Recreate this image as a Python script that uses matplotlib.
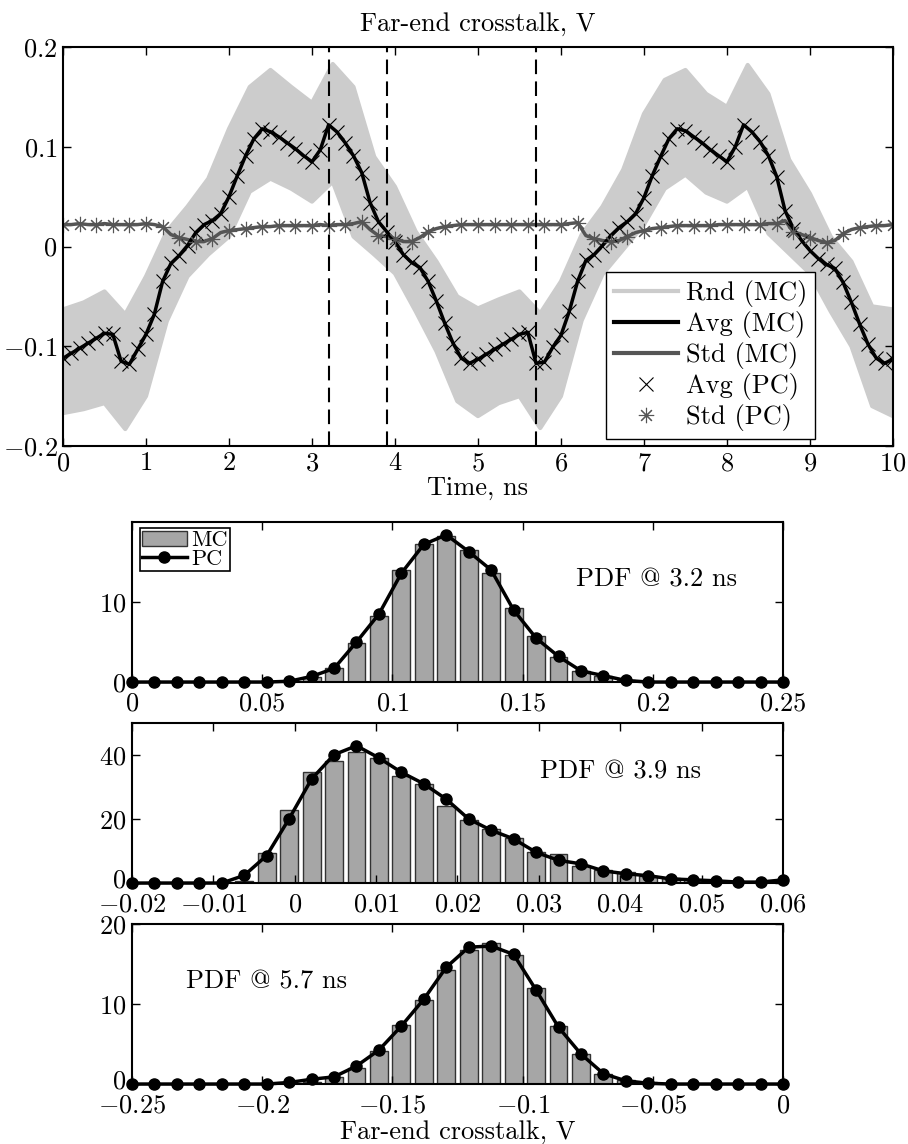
import numpy as np
import matplotlib
matplotlib.use("Agg")
import matplotlib.pyplot as plt
from matplotlib.lines import Line2D
from matplotlib.patches import Rectangle
from matplotlib.ticker import FuncFormatter
from matplotlib.transforms import ScaledTranslation

plt.rcParams['font.family'] = ['cmr10', 'DejaVu Serif']
plt.rcParams['mathtext.fontset'] = 'cm'
plt.rcParams['axes.formatter.use_mathtext'] = True
plt.rcParams['font.size'] = 19

# ---- top panel: far-end crosstalk vs time ----
t_avg = np.linspace(0, 10, 101)
avg_mc = [-0.112, -0.107, -0.102, -0.097, -0.092, -0.087, -0.088, -0.115, -0.118, -0.103,
          -0.088, -0.068, -0.035, -0.017, -0.009, 0.001, 0.014, 0.022, 0.026, 0.033,
          0.050, 0.071, 0.091, 0.108, 0.118, 0.115, 0.110, 0.104, 0.098, 0.091,
          0.085, 0.097, 0.122, 0.115, 0.104, 0.091, 0.074, 0.044, 0.025, 0.015,
          0.005, -0.008, -0.016, -0.021, -0.035, -0.055, -0.077, -0.097, -0.112, -0.117,
          -0.113, -0.108, -0.103, -0.098, -0.093, -0.088, -0.086, -0.117, -0.116, -0.101,
          -0.089, -0.065, -0.035, -0.014, -0.008, 0.001, 0.011, 0.019, 0.025, 0.033,
          0.049, 0.071, 0.090, 0.108, 0.118, 0.116, 0.110, 0.104, 0.097, 0.091,
          0.085, 0.100, 0.122, 0.115, 0.105, 0.091, 0.070, 0.036, 0.018, 0.006,
          -0.004, -0.012, -0.018, -0.022, -0.036, -0.056, -0.078, -0.098, -0.112, -0.117,
          -0.113]
std_mc = [0.022, 0.022, 0.023, 0.022, 0.022, 0.023, 0.022, 0.022, 0.022, 0.022,
          0.023, 0.022, 0.020, 0.012, 0.009, 0.007, 0.005, 0.005, 0.008, 0.014,
          0.016, 0.017, 0.018, 0.019, 0.020, 0.020, 0.021, 0.021, 0.021, 0.021,
          0.021, 0.022, 0.021, 0.022, 0.022, 0.023, 0.025, 0.017, 0.011, 0.010,
          0.008, 0.005, 0.005, 0.009, 0.015, 0.018, 0.020, 0.021, 0.022, 0.022,
          0.022, 0.022, 0.022, 0.022, 0.022, 0.022, 0.022, 0.022, 0.022, 0.022,
          0.022, 0.023, 0.024, 0.011, 0.008, 0.006, 0.005, 0.006, 0.010, 0.014,
          0.016, 0.018, 0.019, 0.020, 0.021, 0.021, 0.021, 0.021, 0.021, 0.022,
          0.022, 0.022, 0.022, 0.022, 0.022, 0.023, 0.023, 0.026, 0.015, 0.012,
          0.009, 0.006, 0.004, 0.006, 0.013, 0.017, 0.019, 0.020, 0.021, 0.021,
          0.022]
# envelope of the Monte Carlo realisations
t_env = np.linspace(0, 10, 41)
rnd_hi = [-0.063, -0.056, -0.045, -0.068, -0.030, 0.015, 0.040, 0.068, 0.118, 0.160,
          0.177, 0.160, 0.144, 0.183, 0.160, 0.090, 0.060, 0.015, -0.015, -0.050,
          -0.062, -0.053, -0.045, -0.067, -0.035, 0.012, 0.040, 0.077, 0.133, 0.167,
          0.177, 0.153, 0.140, 0.182, 0.153, 0.087, 0.053, 0.010, -0.015, -0.060,
          -0.063]
rnd_lo = [-0.167, -0.163, -0.157, -0.183, -0.150, -0.075, -0.030, -0.008, 0.010, 0.055,
          0.068, 0.058, 0.045, 0.065, 0.010, -0.008, -0.027, -0.065, -0.105, -0.155,
          -0.170, -0.157, -0.150, -0.182, -0.150, -0.074, -0.028, -0.003, 0.022, 0.058,
          0.072, 0.054, 0.045, 0.060, 0.013, -0.007, -0.027, -0.065, -0.100, -0.160,
          -0.170]
t_cuts = [3.2, 3.9, 5.7]

# ---- PDFs ----
x1 = np.linspace(0, 0.25, 30)
mc1 = [0, 0, 0, 0, 0, 0, 0, 0.1, 0.6, 1.7, 4.9, 8.2, 14.0, 17.2, 18.2,
       16.5, 13.6, 9.3, 5.7, 3.1, 1.4, 0.7, 0.2, 0.05, 0, 0, 0, 0, 0, 0]
pc1 = [0, 0, 0, 0, 0, 0, 0, 0.1, 0.7, 1.7, 5.0, 8.5, 13.6, 17.2, 18.4,
       16.3, 14.0, 9.0, 5.5, 3.2, 1.4, 0.8, 0.2, 0, 0, 0, 0, 0, 0, 0]
x2 = np.linspace(-0.02, 0.06, 30)
mc2 = [0, 0, 0, 0, 0, 0.5, 9.4, 22.7, 34.7, 38.2, 40.8, 39.1, 33.3, 30.9, 24.0,
       19.6, 16.9, 14.0, 9.7, 9.0, 5.4, 4.2, 3.4, 2.1, 1.6, 1.0, 0.6, 0.3, 0.2, 0.1]
pc2 = [0, 0, 0, 0, 0, 2.4, 8.6, 20.1, 32.5, 40.1, 42.9, 39.1, 34.6, 31.0, 26.2,
       20.0, 16.5, 13.8, 9.6, 7.1, 6.0, 3.8, 2.9, 2.3, 1.3, 1.0, 0.7, 0.3, 0.3, 1.0]
x3 = np.linspace(-0.25, 0, 30)
mc3 = [0, 0, 0, 0, 0, 0, 0, 0, 0.3, 0.9, 2.0, 4.1, 7.4, 10.5, 14.3,
       16.7, 17.6, 16.1, 12.0, 7.25, 3.8, 1.3, 0.5, 0.2, 0.05, 0, 0, 0, 0, 0]
pc3 = [0, 0, 0, 0, 0, 0, 0, 0.2, 0.6, 0.9, 2.25, 4.25, 7.25, 10.6, 14.6,
       17.1, 17.25, 16.2, 11.75, 7.1, 3.75, 1.3, 0.4, 0.1, 0, 0, 0, 0, 0, 0]

c_rnd = '#cccccc'
c_std = '#555555'
c_bar = '#a6a6a6'

fmt = FuncFormatter(lambda v, p: '$%g$' % (round(v, 6) + 0.0))


def style(ax, xpad=4):
    ax.tick_params(direction='in', top=True, right=True, length=6, width=1, pad=4)
    ax.tick_params(axis='x', pad=xpad)
    for s in ax.spines.values():
        s.set_linewidth(1.5)
    ax.xaxis.set_major_formatter(fmt)
    ax.yaxis.set_major_formatter(fmt)


fig = plt.figure(figsize=(9.08, 11.44), dpi=100)

ax = fig.add_axes([0.0694, 0.6101, 0.914, 0.3488])
ax.fill_between(t_env, rnd_lo, rnd_hi, color=c_rnd, lw=0)
ax.plot(t_env, rnd_hi, color=c_rnd, lw=3)
ax.plot(t_env, rnd_lo, color=c_rnd, lw=3)
ax.plot(t_avg, std_mc, color=c_std, lw=2.5)
ax.plot(t_avg, avg_mc, color='k', lw=2.5)
ax.plot(t_avg, avg_mc, 'x', color='k', ms=10, mew=0.8)
ax.plot(t_avg[::2], std_mc[::2], ls='none', marker=(8, 2, 0), color=c_std, ms=11, mew=0.8)
for tc in t_cuts:
    ax.axvline(tc, color='k', lw=1.5, dashes=(7, 3.5))
ax.set_xlim(0, 10)
ax.set_ylim(-0.2, 0.2)
ax.set_xticks(range(0, 11))
ax.set_yticks([-0.2, -0.1, 0, 0.1, 0.2])
style(ax)
ax.set_xlabel('Time, ns', labelpad=1)
ax.set_title('Far-end crosstalk, V', fontsize=19, pad=12)
h = [Line2D([], [], color=c_rnd, lw=3),
     Line2D([], [], color='k', lw=3),
     Line2D([], [], color=c_std, lw=3),
     Line2D([], [], ls='none', marker='x', color='k', ms=10, mew=0.8),
     Line2D([], [], ls='none', marker=(8, 2, 0), color=c_std, ms=11, mew=0.8)]
lg = ax.legend(h, ['Rnd (MC)', 'Avg (MC)', 'Std (MC)', 'Avg (PC)', 'Std (PC)'],
               loc='lower right', bbox_to_anchor=(0.906, 0.0175), fancybox=False,
               edgecolor='k', framealpha=1, handlelength=2.4, handletextpad=0.3,
               labelspacing=0.15, borderpad=0.3, borderaxespad=0)
lg.get_frame().set_linewidth(1)

pdfs = [(x1, mc1, pc1, (0, 0.25), 0.4038, [0, 10], 20, np.linspace(0, 0.25, 6)),
        (x2, mc2, pc2, (-0.02, 0.06), 0.2281, [0, 20, 40], 50, np.linspace(-0.02, 0.06, 9)),
        (x3, mc3, pc3, (-0.25, 0), 0.0524, [0, 10, 20], 20, np.linspace(-0.25, 0, 6))]
axs = []
for xs, mc, pc, xl, bot, yt, ytop, xt in pdfs:
    a = fig.add_axes([0.1454, bot, 0.7169, 0.1399])
    dx = xs[1] - xs[0]
    a.bar(xs, mc, width=0.8 * dx, color=c_bar, edgecolor='#333333', lw=1)
    a.plot(xs, pc, '-o', color='k', lw=2.5, ms=8, clip_on=False)
    a.set_xlim(*xl)
    a.set_ylim(0, ytop)
    a.set_xticks(xt)
    a.set_yticks(yt)
    style(a, xpad=7)
    axs.append(a)

axs[0].text(0.682, 0.64, 'PDF @ 3.2 ns', transform=axs[0].transAxes, va='center')
axs[1].text(0.627, 0.694, 'PDF @ 3.9 ns', transform=axs[1].transAxes, va='center')
axs[2].text(0.083, 0.6375, 'PDF @ 5.7 ns', transform=axs[2].transAxes, va='center')
axs[2].set_xlabel('Far-end crosstalk, V', labelpad=2)

h2 = [Rectangle((0, 0), 1, 1, facecolor=c_bar, edgecolor='#333333', lw=1),
      Line2D([], [], color='k', lw=2.5, marker='o', ms=8)]
lg2 = axs[0].legend(h2, ['MC', 'PC'], loc='upper left', bbox_to_anchor=(0.012, 0.96),
                    fancybox=False, edgecolor='k', framealpha=1, handlelength=2.0,
                    handletextpad=0.2, labelspacing=-0.05, borderpad=0.1,
                    borderaxespad=0, fontsize=16)
lg2.get_frame().set_linewidth(1.2)

# lift the "0" y label of the lower PDFs a little so it clears the x labels
fig.canvas.draw()
lift = ScaledTranslation(0, 5 / 100, fig.dpi_scale_trans)
for a in axs[1:]:
    lab = a.yaxis.get_major_ticks()[0].label1
    lab.set_transform(lab.get_transform() + lift)

fig.savefig('out.png', dpi=100)
